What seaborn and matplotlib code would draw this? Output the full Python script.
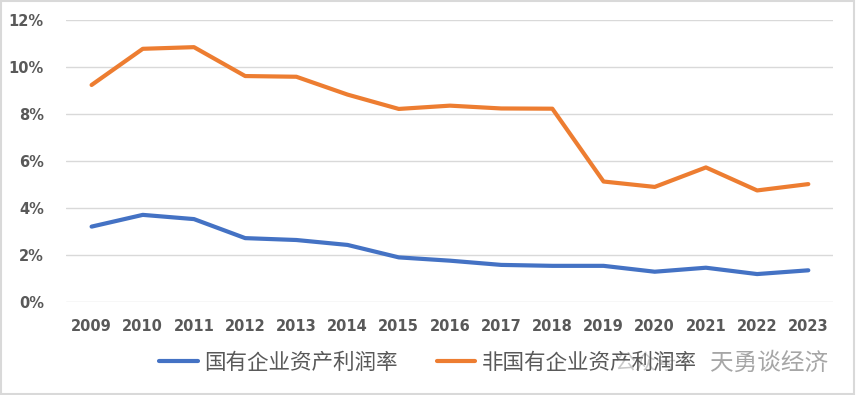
import pandas as pd
import seaborn as sns
import matplotlib.pyplot as plt
from matplotlib.patches import Rectangle
from matplotlib.ticker import PercentFormatter

# 数据（读图估计，%）
years = list(range(2009, 2024))
soe = [3.21, 3.71, 3.53, 2.72, 2.64, 2.43, 1.90, 1.76, 1.58, 1.54, 1.54, 1.29, 1.46, 1.19, 1.35]
non_soe = [9.24, 10.78, 10.85, 9.62, 9.59, 8.83, 8.22, 8.36, 8.24, 8.23, 5.13, 4.90, 5.73, 4.75, 5.02]
series_names = ['国有企业资产利润率', '非国有企业资产利润率']
colors = ['#4472C4', '#ED7D31']

df = pd.DataFrame({
    'year': years * 2,
    'value': soe + non_soe,
    'series': [series_names[0]] * len(years) + [series_names[1]] * len(years),
})

sns.set_style('white')
plt.rcParams['font.family'] = ['Noto Sans CJK SC', 'DejaVu Sans']

fig = plt.figure(figsize=(8.56, 3.95), dpi=100)
ax = fig.add_axes([0.0771, 0.2354, 0.8959, 0.7136])

sns.lineplot(data=df, x='year', y='value', hue='series',
             palette=colors, linewidth=3, ax=ax)

ax.set_xlim(2008.5, 2023.48)
ax.set_ylim(0, 12)
ax.set_yticks(range(0, 13, 2))
ax.set_xticks(years)
ax.yaxis.set_major_formatter(PercentFormatter(decimals=0))
ax.grid(axis='y', color='#D9D9D9', linewidth=1)
ax.set_axisbelow(True)
for s in ax.spines.values():
    s.set_visible(False)
ax.set_xlabel('')
ax.set_ylabel('')
ax.tick_params(length=0)
for lab in ax.get_xticklabels() + ax.get_yticklabels():
    lab.set_family('DejaVu Sans')
    lab.set_fontweight('bold')
    lab.set_fontsize(10.5)
    lab.set_color('#595959')
ax.tick_params(axis='x', pad=12)
ax.tick_params(axis='y', pad=16)

handles, labels = ax.get_legend_handles_labels()
ax.get_legend().remove()
fig.legend(handles, labels, loc='center', bbox_to_anchor=(0.5, 0.081),
           ncol=2, frameon=False, fontsize=15.5, handlelength=1.8,
           handletextpad=0.3, columnspacing=1.8, labelcolor='#595959')

# 水印
fig.text(0.718, 0.081, '公众号', fontsize=15, color='#A6A6A6', alpha=0.6,
         ha='left', va='center')
fig.text(0.830, 0.081, '天勇谈经济', fontsize=17, color='#A6A6A6',
         ha='left', va='center')

fig.patches.append(Rectangle((0.001, 0.002), 0.997, 0.995, fill=False,
                             edgecolor='#D9D9D9', linewidth=1.5,
                             transform=fig.transFigure))

fig.savefig('out.png', dpi=100)
